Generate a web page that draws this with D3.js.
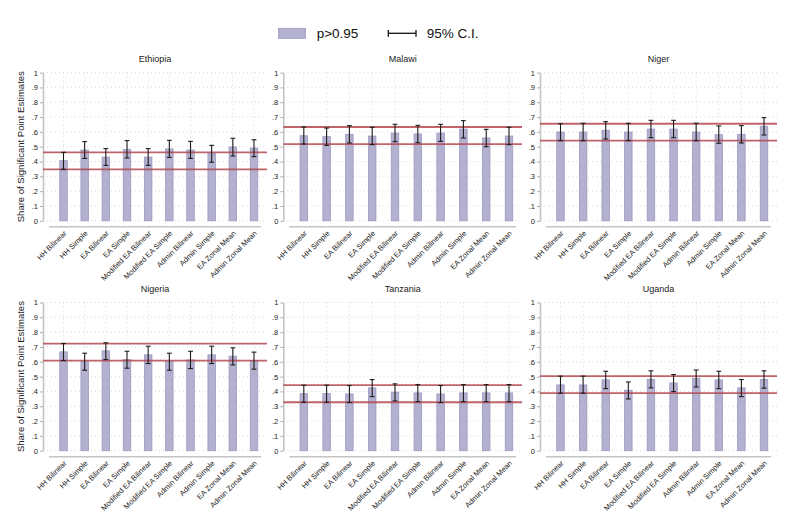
<!DOCTYPE html>
<html>
<head>
<meta charset="utf-8">
<script src="https://cdn.jsdelivr.net/npm/d3@7"></script>
<style>
  body { margin: 0; background: #ffffff; }
  svg { display: block; font-family: "Liberation Sans", Arial, sans-serif; }
</style>
</head>
<body>
<script>
// ---------- data ----------
const categories = ["HH Bilinear","HH Simple","EA Bilinear","EA Simple","Modified EA Bilinear",
  "Modified EA Simple","Admin Bilinear","Admin Simple","EA Zonal Mean","Admin Zonal Mean"];
const countries = ["Ethiopia","Malawi","Niger","Nigeria","Tanzania","Uganda"];
const yTickValues = [0,0.1,0.2,0.3,0.4,0.5,0.6,0.7,0.8,0.9,1];
const yTickLabels = ["0",".1",".2",".3",".4",".5",".6",".7",".8",".9","1"];

const ethiopiaShare = [0.406,0.478,0.430,0.482,0.430,0.485,0.478,0.453,0.498,0.491];
const ethiopiaLow   = [0.347,0.421,0.374,0.424,0.374,0.428,0.421,0.395,0.437,0.433];
const ethiopiaHigh  = [0.462,0.534,0.487,0.541,0.487,0.543,0.536,0.509,0.557,0.547];

const malawiShare = [0.574,0.568,0.584,0.572,0.592,0.586,0.592,0.619,0.559,0.572];
const malawiLow   = [0.518,0.509,0.525,0.514,0.534,0.527,0.536,0.559,0.500,0.514];
const malawiHigh  = [0.633,0.626,0.642,0.631,0.651,0.644,0.651,0.676,0.617,0.631];

const nigerShare = [0.599,0.599,0.611,0.599,0.619,0.619,0.599,0.581,0.584,0.638];
const nigerLow   = [0.541,0.541,0.552,0.541,0.561,0.561,0.541,0.523,0.525,0.579];
const nigerHigh  = [0.655,0.658,0.669,0.658,0.678,0.678,0.658,0.640,0.642,0.696];

const nigeriaShare = [0.667,0.601,0.674,0.615,0.647,0.601,0.613,0.647,0.638,0.608];
const nigeriaLow   = [0.608,0.543,0.615,0.557,0.588,0.543,0.554,0.588,0.579,0.550];
const nigeriaHigh  = [0.723,0.658,0.728,0.671,0.705,0.658,0.671,0.705,0.694,0.665];

const tanzaniaShare = [0.385,0.385,0.383,0.424,0.395,0.390,0.383,0.390,0.390,0.390];
const tanzaniaLow   = [0.327,0.327,0.325,0.365,0.336,0.331,0.325,0.331,0.331,0.331];
const tanzaniaHigh  = [0.442,0.442,0.440,0.480,0.451,0.446,0.440,0.446,0.446,0.446];

const ugandaShare = [0.444,0.444,0.478,0.408,0.482,0.457,0.489,0.478,0.424,0.480];
const ugandaLow   = [0.388,0.388,0.419,0.349,0.424,0.399,0.430,0.419,0.365,0.422];
const ugandaHigh  = [0.503,0.503,0.536,0.464,0.539,0.514,0.545,0.536,0.480,0.539];

const panelData = [
  {share: ethiopiaShare, low: ethiopiaLow, high: ethiopiaHigh},
  {share: malawiShare, low: malawiLow, high: malawiHigh},
  {share: nigerShare, low: nigerLow, high: nigerHigh},
  {share: nigeriaShare, low: nigeriaLow, high: nigeriaHigh},
  {share: tanzaniaShare, low: tanzaniaLow, high: tanzaniaHigh},
  {share: ugandaShare, low: ugandaLow, high: ugandaHigh}
];

const legendLabels = ["p>0.95", "95% C.I."];
const yAxisTitle = "Share of Significant Point Estimates";

// ---------- layout ----------
const W = 789, H = 526;
const colLeft = [43, 283.3, 540];
const colRight = [267, 522, 777];
const rowBase = [220.8, 450.7];
const plotH = 148.2;

const barFill = "#b3b1cf", barStroke = "#9a98c2";
const refColor = "#b24a50";
const gridColor = "#cfcfcf";
const axisColor = "#c4c4c4";

const svg = d3.select("body").append("svg").attr("width", W).attr("height", H);

countries.forEach((country, i) => {
  const col = i % 3, row = Math.floor(i / 3);
  const L = colLeft[col], R = colRight[col];
  const d = panelData[i];
  const y = d3.scaleLinear().domain([0, 1]).range([rowBase[row], rowBase[row] - plotH]);
  const x = d3.scalePoint().domain(categories).range([L + 20.5, R - 13]);
  const g = svg.append("g");

  // horizontal grid
  g.append("g").selectAll("line").data(yTickValues).join("line")
    .attr("x1", L).attr("x2", R)
    .attr("y1", v => y(v)).attr("y2", v => y(v))
    .attr("stroke", gridColor).attr("stroke-width", 0.8).attr("stroke-dasharray", "1,3");
  // vertical grid
  g.append("g").selectAll("line").data(categories).join("line")
    .attr("x1", c => x(c)).attr("x2", c => x(c))
    .attr("y1", y(1)).attr("y2", y(0))
    .attr("stroke", gridColor).attr("stroke-width", 0.8).attr("stroke-dasharray", "1,3");

  // y axis
  const yAxis = d3.axisLeft(y).tickValues(yTickValues)
    .tickFormat((v, k) => yTickLabels[k]).tickSize(3).tickSizeOuter(0).tickPadding(2);
  const ya = g.append("g").attr("transform", `translate(${L},0)`).call(yAxis);
  ya.select(".domain").attr("stroke", axisColor).attr("stroke-width", 1.6);
  ya.selectAll(".tick line").attr("stroke", "#9a9a9a").attr("stroke-width", 0.8);
  ya.selectAll(".tick text").attr("font-size", 7.5).attr("fill", "#222")
    .attr("font-family", "Liberation Sans, Arial, sans-serif");

  // x axis line
  g.append("line").attr("x1", L + 6).attr("x2", R - 6)
    .attr("y1", y(0) + 6).attr("y2", y(0) + 6)
    .attr("stroke", axisColor).attr("stroke-width", 1.6);

  // x labels via axis
  const xAxis = d3.axisBottom(x).tickSize(0).tickPadding(0);
  const xa = g.append("g").attr("transform", `translate(0,${y(0) + 6})`).call(xAxis);
  xa.select(".domain").remove();
  xa.selectAll(".tick text")
    .attr("font-size", 7.5).attr("fill", "#222")
    .attr("font-family", "Liberation Sans, Arial, sans-serif")
    .attr("text-anchor", "end")
    .attr("dy", null).attr("y", 0)
    .attr("transform", "translate(3,7) rotate(-45)");

  // bars
  g.append("g").selectAll("rect").data(categories).join("rect")
    .attr("x", c => x(c) - 3.75).attr("width", 7.5)
    .attr("y", (c, k) => y(d.share[k]))
    .attr("height", (c, k) => y(0) - y(d.share[k]))
    .attr("fill", barFill).attr("stroke", barStroke).attr("stroke-width", 0.8);

  // reference lines (CI of first method)
  [d.low[0], d.high[0]].forEach(v => {
    g.append("line").attr("x1", L).attr("x2", R)
      .attr("y1", y(v)).attr("y2", y(v))
      .attr("stroke", refColor).attr("stroke-width", 1.8).attr("stroke-opacity", 0.85);
  });

  // error bars
  const eb = g.append("g").attr("stroke", "#1c1c1c").attr("stroke-width", 1.1);
  categories.forEach((c, k) => {
    const cx = x(c);
    eb.append("line").attr("x1", cx).attr("x2", cx).attr("y1", y(d.low[k])).attr("y2", y(d.high[k]));
    eb.append("line").attr("x1", cx - 2.4).attr("x2", cx + 2.4).attr("y1", y(d.low[k])).attr("y2", y(d.low[k]));
    eb.append("line").attr("x1", cx - 2.4).attr("x2", cx + 2.4).attr("y1", y(d.high[k])).attr("y2", y(d.high[k]));
  });

  // title
  g.append("text").attr("x", (L + R) / 2).attr("y", y(1) - 10.5)
    .attr("text-anchor", "middle").attr("font-size", 9).attr("fill", "#1a1a1a")
    .text(country);

  // y-axis title on first column
  if (col === 0) {
    const cy = (y(0) + y(1)) / 2;
    g.append("text").attr("transform", `translate(24.3,${cy}) rotate(-90)`)
      .attr("text-anchor", "middle").attr("font-size", 9.5).attr("fill", "#1a1a1a")
      .text(yAxisTitle);
  }
});

// ---------- legend ----------
const lg = svg.append("g");
lg.append("rect").attr("x", 278.5).attr("y", 28.3).attr("width", 27).attr("height", 10)
  .attr("fill", barFill).attr("stroke", barStroke).attr("stroke-width", 0.8);
lg.append("text").attr("x", 316.7).attr("y", 37.8).attr("font-size", 13.5).attr("fill", "#111")
  .text(legendLabels[0]);
lg.append("line").attr("x1", 388.3).attr("x2", 416).attr("y1", 33.3).attr("y2", 33.3)
  .attr("stroke", "#111").attr("stroke-width", 1.3);
lg.append("line").attr("x1", 388.3).attr("x2", 388.3).attr("y1", 30).attr("y2", 36.7)
  .attr("stroke", "#111").attr("stroke-width", 1.3);
lg.append("line").attr("x1", 416).attr("x2", 416).attr("y1", 30).attr("y2", 36.7)
  .attr("stroke", "#111").attr("stroke-width", 1.3);
lg.append("text").attr("x", 426.7).attr("y", 37.8).attr("font-size", 13.5).attr("fill", "#111")
  .text(legendLabels[1]);
</script>
</body>
</html>
